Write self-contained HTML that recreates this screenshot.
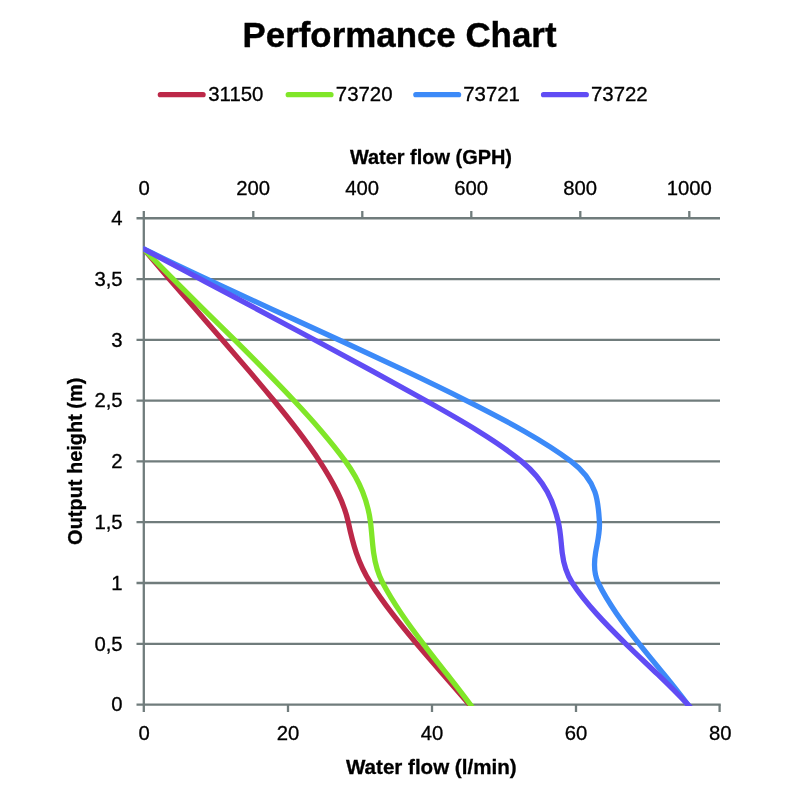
<!DOCTYPE html>
<html lang="en"><head><meta charset="utf-8"><title>Performance Chart</title>
<style>html,body{margin:0;padding:0;background:#fff}body{width:800px;height:800px;overflow:hidden}svg{display:block}</style>
</head><body>
<svg width="800" height="800" viewBox="0 0 800 800">
<defs><clipPath id="plot"><rect x="143.3" y="200" width="600" height="505.9"/></clipPath></defs>
<rect width="800" height="800" fill="#fff"/>
<g stroke="#707c7c" stroke-width="2.3" fill="none">
<path d="M136.5 218.25 H720.0"/>
<path d="M136.5 279.04 H720.0"/>
<path d="M136.5 339.84 H720.0"/>
<path d="M136.5 400.63 H720.0"/>
<path d="M136.5 461.43 H720.0"/>
<path d="M136.5 522.22 H720.0"/>
<path d="M136.5 583.01 H720.0"/>
<path d="M136.5 643.81 H720.0"/>
<path d="M136.5 704.60 H720.7"/>
<path d="M143.8 211 V712"/>
<path d="M253.3 211 V218.2"/>
<path d="M362.3 211 V218.2"/>
<path d="M471.3 211 V218.2"/>
<path d="M580.3 211 V218.2"/>
<path d="M689.3 211 V218.2"/>
<path d="M288.0 704.6 V712"/>
<path d="M432.0 704.6 V712"/>
<path d="M576.0 704.6 V712"/>
<path d="M719.6 704.6 V712"/>
</g>
<g fill="none" stroke-width="5.3" stroke-linejoin="round" clip-path="url(#plot)">
<path stroke="#bc2848" d="M140.74 249.00 L143.74 249.00C152.14 258.97 160.67 268.94 169.28 278.91C178.03 289.05 186.85 299.18 195.70 309.32C204.54 319.45 213.39 329.59 222.20 339.73C231.00 349.86 239.75 360.00 248.39 370.13C257.02 380.27 265.54 390.40 273.88 400.54C282.21 410.67 290.37 420.81 298.09 430.94C305.81 441.08 313.10 451.21 319.70 461.35C326.30 471.49 332.37 481.62 337.32 491.76C342.28 501.89 346.11 512.03 348.26 522.16C350.40 532.30 352.76 542.43 356.20 552.57C359.63 562.70 364.15 572.84 370.62 582.98C377.10 593.11 384.34 603.25 392.11 613.38C399.88 623.52 408.17 633.65 416.74 643.79C425.31 653.92 434.14 664.06 443.00 674.19C451.86 684.33 460.74 694.46 469.39 704.60L472.30 708.00"/>
<path stroke="#80e628" d="M140.74 249.00 L143.74 249.00C153.27 258.97 163.05 268.94 172.98 278.91C183.06 289.05 193.29 299.18 203.56 309.32C213.83 319.45 224.13 329.59 234.36 339.73C244.58 349.86 254.73 360.00 264.70 370.13C274.66 380.27 284.44 390.40 293.92 400.54C303.40 410.67 312.59 420.81 321.26 430.94C329.93 441.08 338.08 451.21 345.50 461.35C352.92 471.49 358.52 481.62 362.59 491.76C366.66 501.89 369.20 512.03 370.49 522.16C371.78 532.30 372.19 542.43 373.61 552.57C375.03 562.70 377.45 572.84 382.78 582.98C388.10 593.11 394.37 603.25 401.23 613.38C408.10 623.52 415.57 633.65 423.31 643.79C431.05 653.92 439.05 664.06 447.00 674.19C454.94 684.33 462.82 694.46 470.30 704.60L472.80 708.00"/>
<path stroke="#3c8af8" d="M140.74 249.00 L143.74 249.00C164.11 258.97 185.09 268.94 206.42 278.91C228.10 289.05 250.14 299.18 272.27 309.32C294.39 319.45 316.61 329.59 338.63 339.73C360.66 349.86 382.49 360.00 403.87 370.13C425.25 380.27 446.16 390.40 466.35 400.54C486.53 410.67 505.98 420.81 523.75 430.94C541.52 441.08 557.61 451.21 571.09 461.35C584.56 471.49 591.32 481.62 594.88 491.76C598.44 501.89 598.79 512.03 599.43 522.16C600.08 532.30 597.30 542.43 595.61 552.57C593.91 562.70 593.31 572.84 598.31 582.98C603.30 593.11 609.51 603.25 616.48 613.38C623.44 623.52 631.18 633.65 639.23 643.79C647.28 653.92 655.66 664.06 663.91 674.19C672.16 684.33 680.28 694.46 687.85 704.60L690.38 708.00"/>
<path stroke="#604cf4" d="M140.75 249.00 L143.75 249.00C162.49 258.97 181.30 268.94 200.11 278.91C219.23 289.05 238.36 299.18 257.43 309.32C276.50 319.45 295.51 329.59 314.40 339.73C333.28 349.86 352.04 360.00 370.60 370.13C389.17 380.27 407.54 390.40 425.65 400.54C443.76 410.67 461.61 420.81 478.00 430.94C494.38 441.08 509.29 451.21 521.52 461.35C533.76 471.49 541.73 481.62 547.26 491.76C552.79 501.89 555.87 512.03 558.32 522.16C560.76 532.30 560.95 542.43 562.20 552.57C563.44 562.70 565.73 572.84 572.37 582.98C579.00 593.11 587.17 603.25 596.28 613.38C605.38 623.52 615.43 633.65 625.84 643.79C636.24 653.92 647.00 664.06 657.53 674.19C668.06 684.33 678.36 694.46 687.85 704.60L691.03 708.00"/>
</g>
<g stroke-width="5.2" stroke-linecap="round" fill="none">
<path stroke="#bc2848" d="M160.3 94.7 H203.1"/>
<path stroke="#80e628" d="M288.2 94.7 H331.0"/>
<path stroke="#3c8af8" d="M415.8 94.7 H458.6"/>
<path stroke="#604cf4" d="M543.5 94.7 H586.3"/>
</g>
<g font-family="'Liberation Sans', sans-serif" fill="#000">
<g stroke="#000" stroke-width="0.4">
<text transform="translate(399.50 47.00) scale(0.9690 1)" font-size="36" text-anchor="middle" font-weight="700">Performance Chart</text>
</g>
<g stroke="#000" stroke-width="0.3">
<text transform="translate(430.95 163.70) scale(1.0180 1)" font-size="19.6" text-anchor="middle" font-weight="700">Water flow (GPH)</text>
<text transform="translate(431.25 773.80) scale(1.0500 1)" font-size="19.6" text-anchor="middle" font-weight="700">Water flow (l/min)</text>
<text transform="translate(81.80 461.25) rotate(-90) scale(1.0180 1)" font-size="19.6" text-anchor="middle" font-weight="700">Output height (m)</text>
</g>
<g stroke="#000" stroke-width="0.3">
<text transform="translate(235.85 101.20)" font-size="20.4" text-anchor="middle">31150</text>
<text transform="translate(364.15 101.20)" font-size="20.4" text-anchor="middle">73720</text>
<text transform="translate(491.55 101.20)" font-size="20.4" text-anchor="middle">73721</text>
<text transform="translate(619.35 101.20)" font-size="20.4" text-anchor="middle">73722</text>
<text transform="translate(144.20 195.40)" font-size="20.3" text-anchor="middle">0</text>
<text transform="translate(253.20 195.40)" font-size="20.3" text-anchor="middle">200</text>
<text transform="translate(362.20 195.40)" font-size="20.3" text-anchor="middle">400</text>
<text transform="translate(471.20 195.40)" font-size="20.3" text-anchor="middle">600</text>
<text transform="translate(580.20 195.40)" font-size="20.3" text-anchor="middle">800</text>
<text transform="translate(689.20 195.40)" font-size="20.3" text-anchor="middle">1000</text>
<text transform="translate(144.10 740.00)" font-size="20.3" text-anchor="middle">0</text>
<text transform="translate(288.10 740.00)" font-size="20.3" text-anchor="middle">20</text>
<text transform="translate(432.10 740.00)" font-size="20.3" text-anchor="middle">40</text>
<text transform="translate(576.10 740.00)" font-size="20.3" text-anchor="middle">60</text>
<text transform="translate(720.30 740.00)" font-size="20.3" text-anchor="middle">80</text>
<text transform="translate(122.60 224.95)" font-size="20.3" text-anchor="end">4</text>
<text transform="translate(122.60 285.74)" font-size="20.3" text-anchor="end">3,5</text>
<text transform="translate(122.60 346.54)" font-size="20.3" text-anchor="end">3</text>
<text transform="translate(122.60 407.33)" font-size="20.3" text-anchor="end">2,5</text>
<text transform="translate(122.60 468.12)" font-size="20.3" text-anchor="end">2</text>
<text transform="translate(122.60 528.92)" font-size="20.3" text-anchor="end">1,5</text>
<text transform="translate(122.60 589.71)" font-size="20.3" text-anchor="end">1</text>
<text transform="translate(122.60 650.51)" font-size="20.3" text-anchor="end">0,5</text>
<text transform="translate(122.60 711.30)" font-size="20.3" text-anchor="end">0</text>
</g>
</g>
</svg>
</body></html>
